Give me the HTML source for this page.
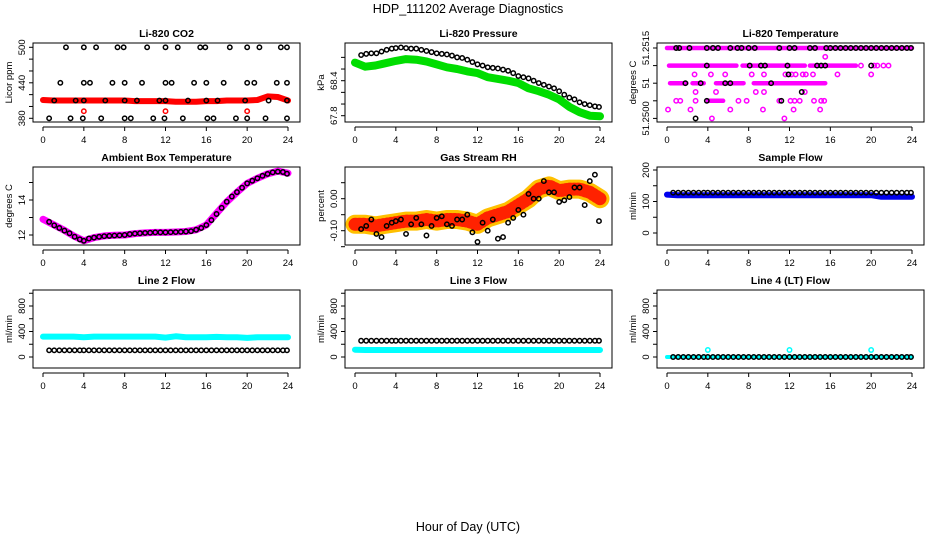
<!DOCTYPE html>
<html><head><meta charset="utf-8">
<style>
html,body{margin:0;padding:0;background:#fff;}
svg{display:block;font-family:"Liberation Sans",sans-serif;}
</style></head>
<body>
<svg id="chart" width="936" height="540" viewBox="0 0 936 540">
<text x="468" y="13" font-size="12.5" text-anchor="middle">HDP_111202  Average Diagnostics</text>
<text x="468" y="531" font-size="12.5" text-anchor="middle">Hour of Day (UTC)</text>
</svg>
<script>
// ---- data ----
const blackHours = [0.6,1.1,1.6,2.1,2.6,3.1,3.6,4.0,4.5,5.0,5.5,6.0,6.5,7.0,7.5,8.0,8.5,9.0,9.5,10.0,10.5,11.0,11.5,12.0,12.5,13.0,13.5,14.0,14.5,15.0,15.5,16.0,16.5,17.0,17.5,18.0,18.5,19.0,19.5,20.0,20.5,21.0,21.5,22.0,22.5,23.0,23.5,23.9];
const bandHours = [0,1,2,3,4,5,6,7,8,9,10,11,12,13,14,15,16,17,18,19,20,21,22,23,24];
const xTicks = [0,4,8,12,16,20,24];

const co2BlackHours = [2.25,4.0,5.2,7.3,7.9,10.2,12.0,13.2,15.4,15.9,18.3,20.0,21.2,23.3,23.9,1.7,4.0,4.6,6.8,8.0,9.7,12.0,12.6,14.8,16.0,17.7,20.0,20.7,22.9,23.9,0.6,2.7,3.9,5.7,8.0,8.6,10.8,11.9,13.7,16.1,16.7,18.9,20.0,21.8,23.9,1.1,3.2,4.0,6.1,8.0,9.2,11.4,12.0,14.2,16.0,17.1,19.8,22.1,23.9];
const co2BlackVals = [500,500,500,500,500,500,500,500,500,500,500,500,500,500,500,440,440,440,440,440,440,440,440,440,440,440,440,440,440,440,380,380,380,380,380,380,380,380,380,380,380,380,380,380,380,410,410,410,410,410,410,410,410,410,410,410,410,410,410];
const co2Red = [411,410,410,410,410,410,410,410,410,409,409,409,409,408,408,408,409,409,410,410,410,411,417,416,410];
const co2RedExtraHours = [4,12,20];
const co2RedExtraVals = [392,392,392];

const presGreen = [68.71,68.64,68.66,68.70,68.74,68.77,68.76,68.73,68.68,68.63,68.60,68.56,68.53,68.46,68.43,68.40,68.36,68.27,68.22,68.16,68.08,67.95,67.86,67.80,67.79];
const presBlack = [68.84,68.86,68.87,68.87,68.90,68.93,68.95,68.96,68.97,68.96,68.95,68.95,68.93,68.91,68.89,68.87,68.86,68.85,68.83,68.80,68.79,68.76,68.72,68.68,68.66,68.63,68.62,68.61,68.59,68.57,68.53,68.48,68.46,68.44,68.40,68.36,68.33,68.30,68.27,68.22,68.16,68.11,68.08,68.03,68.00,67.98,67.96,67.95];

const tempBandVals = [51.2515,51.2511,51.2511,51.2511,51.2507,51.2507,51.2507,51.2507,51.2503];
const tempBandStart = [0.0,0.2,7.4,14.0,0.3,2.5,4.8,8.5,4.0];
const tempBandEnd = [24.0,6.8,13.5,18.5,1.9,3.6,7.5,15.5,5.5];
const tempMagHours = [19.0,20.3,20.6,21.2,21.7,2.7,4.3,5.7,8.3,9.5,11.6,12.2,12.6,13.3,13.6,14.3,16.7,20.0,2.8,4.8,8.7,9.5,13.5,0.9,1.3,2.8,7.0,7.8,11.0,12.1,12.5,13.0,14.4,15.1,15.4,0.1,2.3,6.2,9.4,12.4,15.0,4.4,11.5,15.5];
const tempMagVals = [51.2511,51.2511,51.2511,51.2511,51.2511,51.2509,51.2509,51.2509,51.2509,51.2509,51.2509,51.2509,51.2509,51.2509,51.2509,51.2509,51.2509,51.2509,51.2505,51.2505,51.2505,51.2505,51.2505,51.2503,51.2503,51.2503,51.2503,51.2503,51.2503,51.2503,51.2503,51.2503,51.2503,51.2503,51.2503,51.2501,51.2501,51.2501,51.2501,51.2501,51.2501,51.2499,51.2499,51.2513];
const tempBlackHours = [0.9,1.2,2.2,3.9,4.5,5.0,6.2,6.9,7.3,8.0,8.6,11.0,12.0,12.5,14.0,14.5,15.6,16.0,16.5,17.0,17.5,18.0,18.5,19.0,19.5,20.0,20.5,21.0,21.5,22.0,22.5,23.0,23.5,23.9,3.9,8.1,9.2,9.6,11.8,14.7,15.1,15.5,20.0,11.9,1.8,3.3,5.7,6.2,10.2,13.2,3.9,11.2,2.8];
const tempBlackVals = [51.2515,51.2515,51.2515,51.2515,51.2515,51.2515,51.2515,51.2515,51.2515,51.2515,51.2515,51.2515,51.2515,51.2515,51.2515,51.2515,51.2515,51.2515,51.2515,51.2515,51.2515,51.2515,51.2515,51.2515,51.2515,51.2515,51.2515,51.2515,51.2515,51.2515,51.2515,51.2515,51.2515,51.2515,51.2511,51.2511,51.2511,51.2511,51.2511,51.2511,51.2511,51.2511,51.2511,51.2509,51.2507,51.2507,51.2507,51.2507,51.2507,51.2505,51.2503,51.2503,51.2499];

const ambMagenta = [12.9,12.6,12.3,11.95,11.67,11.85,11.95,11.98,12.0,12.08,12.12,12.15,12.15,12.17,12.2,12.3,12.57,13.24,13.9,14.44,14.95,15.24,15.49,15.65,15.53];
const ambBlack = [12.75,12.55,12.4,12.25,12.1,11.9,11.75,11.67,11.8,11.85,11.9,11.93,11.95,11.97,11.98,12.0,12.05,12.08,12.1,12.12,12.13,12.15,12.15,12.15,12.16,12.17,12.18,12.2,12.22,12.3,12.4,12.57,12.85,13.2,13.55,13.9,14.2,14.45,14.7,14.95,15.1,15.24,15.38,15.49,15.58,15.62,15.6,15.5];

const rhOrange = [-0.08,-0.08,-0.085,-0.08,-0.075,-0.07,-0.07,-0.065,-0.07,-0.065,-0.065,-0.07,-0.08,-0.06,-0.05,-0.04,-0.02,0.0,0.03,0.04,0.025,0.03,0.03,0.02,0.0];
const rhBlack = [-0.095,-0.085,-0.065,-0.11,-0.12,-0.085,-0.075,-0.07,-0.065,-0.11,-0.08,-0.06,-0.08,-0.115,-0.085,-0.06,-0.055,-0.08,-0.085,-0.065,-0.065,-0.05,-0.105,-0.135,-0.075,-0.1,-0.065,-0.125,-0.12,-0.075,-0.06,-0.035,-0.05,0.015,0.0,0.0,0.055,0.02,0.02,-0.01,-0.005,0.005,0.035,0.035,-0.02,0.055,0.075,-0.07];

const sampleBlue = [122,120,120,120,120,120,120,120,120,120,120,120,120,120,120,120,120,120,120,120,120,115,115,115,115];
const sampleBlack = [128,128,128,128,128,128,128,128,128,128,128,128,128,128,128,128,128,128,128,128,128,128,128,128,128,128,128,128,128,128,128,128,128,128,128,128,128,128,128,128,128,128,128,128,128,128,128,128];

const line2Cyan = [320,320,320,320,310,320,320,320,320,320,320,320,305,325,310,310,310,315,310,310,300,310,310,310,310];
const line2Black = [105,105,105,105,105,105,105,105,105,105,105,105,105,105,105,105,105,105,105,105,105,105,105,105,105,105,105,105,105,105,105,105,105,105,105,105,105,105,105,105,105,105,105,105,105,105,105,105];
const line3Cyan = [115,110,110,110,110,110,110,110,110,110,110,110,110,110,110,110,110,110,110,110,110,110,110,110,110];
const line3Black = [255,255,255,255,255,255,255,255,255,255,255,255,255,255,255,255,255,255,255,255,255,255,255,255,255,255,255,255,255,255,255,255,255,255,255,255,255,255,255,255,255,255,255,255,255,255,255,255];
const line4Cyan = [0,0,0,0,0,0,0,0,0,0,0,0,0,0,0,0,0,0,0,0,0,0,0,0,0];
const line4Black = [0,0,0,0,0,0,0,0,0,0,0,0,0,0,0,0,0,0,0,0,0,0,0,0,0,0,0,0,0,0,0,0,0,0,0,0,0,0,0,0,0,0,0,0,0,0,0,0];
const line4ExtraHours = [4,12,20];
const line4ExtraVals = [110,110,110];

// ---- drawing ----
const NS = "http://www.w3.org/2000/svg";
const svg = document.getElementById("chart");
const rowBox = [[43,122],[167,245],[290,368]];
function mk(tag, attrs, parent){
  const e = document.createElementNS(NS, tag);
  for (const k in attrs) e.setAttribute(k, attrs[k]);
  (parent||svg).appendChild(e);
  return e;
}
function lin(v0,p0,v1,p1){ return v => p0 + (v - v0) * (p1 - p0) / (v1 - v0); }

function makePanel(c, r, name, title, ylab, ys, yTicks, yLabels){
  const g = mk("g", {});
  
  
  const L = 33 + 312*c, R = 300 + 312*c, T = rowBox[r][0], B = rowBox[r][1];
  const xs = h => 43 + 312*c + h*245/24;
  const box = mk("rect", {x:L, y:T, width:R-L, height:B-T, fill:"none", stroke:"#000", "stroke-width":1}, g);
  
  
  const t = mk("text", {x:(L+R)/2, y:T-6, "font-size":10.5, "font-weight":"bold", "text-anchor":"middle"}, g);
  t.textContent = title;
  
  
  const xa = mk("g", {}, g);
  
  
  const ay = B + 5;
  mk("line", {x1:xs(xTicks[0]), x2:xs(xTicks[xTicks.length-1]), y1:ay, y2:ay, stroke:"#000"}, xa);
  xTicks.forEach(v => {
    mk("line", {x1:xs(v), x2:xs(v), y1:ay, y2:ay+4, stroke:"#000"}, xa);
    const tl = mk("text", {x:xs(v), y:ay+16, "font-size":9.5, "text-anchor":"middle"}, xa);
    tl.textContent = v;
    
    
  });
  const ya = mk("g", {}, g);
  
  
  yTicks.forEach(v => {
    mk("line", {x1:L-4, x2:L, y1:ys(v), y2:ys(v), stroke:"#000"}, ya);
  });
  yLabels.forEach(([v, s]) => {
    const tl = mk("text", {x:0, y:0, "font-size":9.5, "text-anchor":"middle", transform:`translate(${L-8},${ys(v)}) rotate(-90)`}, ya);
    tl.textContent = s;
    
    
  });
  const yl = mk("text", {x:0, y:0, "font-size":9.5, "text-anchor":"middle", transform:`translate(${12+312*c},${(T+B)/2}) rotate(-90)`}, g);
  yl.textContent = ylab;
  
  
  const clip = mk("clipPath", {id:"clip-"+name}, g);
  mk("rect", {x:L, y:T, width:R-L, height:B-T}, clip);
  const plot = mk("g", {"clip-path":"url(#clip-"+name+")"}, g);
  return {g:plot, xs, ys};
}
function band(p, name, hours, vals, color, w){
  const pts = hours.map((h,i) => p.xs(h).toFixed(1) + "," + p.ys(vals[i]).toFixed(1)).join(" ");
  const e = mk("polyline", {points:pts, fill:"none", stroke:color, "stroke-width":w, "stroke-linejoin":"round", "stroke-linecap":"round"}, p.g);
  
  
  return e;
}
function points(p, name, hours, vals, color, rad, sw){
  hours.forEach((h,i) => {
    const e = mk("circle", {cx:p.xs(h), cy:p.ys(vals[i]), r:rad||2.2, fill:"none", stroke:color, "stroke-width":sw||1.5}, p.g);
    
    
  });
}

const p1 = makePanel(0,0,"co2","Li-820 CO2","Licor ppm", lin(500,47.3,380,118.3),
  [380,400,420,440,460,480,500], [[380,"380"],[440,"440"],[500,"500"]]);
band(p1,"co2-red-series",bandHours,co2Red,"#ff0000",6);
points(p1,"co2-red-point",co2RedExtraHours,co2RedExtraVals,"#ff0000");
points(p1,"co2-black-point",co2BlackHours,co2BlackVals,"#000");

const p2 = makePanel(1,0,"pressure","Li-820 Pressure","kPa", lin(68.4,80.7,67.8,115.7),
  [67.8,68.0,68.2,68.4,68.6,68.8], [[67.8,"67.8"],[68.4,"68.4"]]);
band(p2,"pressure-green-series",bandHours,presGreen,"#00dd00",8);
points(p2,"pressure-black-point",blackHours,presBlack,"#000");

const p3 = makePanel(2,0,"li820-temp","Li-820 Temperature","degrees C", v => 48 + (51.2515 - v)/0.0002*8.8,
  [51.2515,51.2511,51.2507,51.2503,51.2499], [[51.2515,"51.2515"],[51.2507,"51"],[51.2499,"51.2500"]]);
tempBandVals.forEach((v,i) => {
  const e = mk("line", {x1:p3.xs(tempBandStart[i]), x2:p3.xs(tempBandEnd[i]), y1:p3.ys(v), y2:p3.ys(v), stroke:"#ff00ff", "stroke-width":4.5, "stroke-linecap":"round"}, p3.g);
  
  
});
points(p3,"temp-magenta-point",tempMagHours,tempMagVals,"#ff00ff");
points(p3,"temp-black-point",tempBlackHours,tempBlackVals,"#000");

const p4 = makePanel(0,1,"ambient","Ambient Box Temperature","degrees C", lin(12,235,14,200),
  [12,13,14,15], [[12,"12"],[14,"14"]]);
band(p4,"ambient-magenta-series",bandHours,ambMagenta,"#ff00ff",7);
points(p4,"ambient-black-point",blackHours,ambBlack,"#000");

const p5 = makePanel(1,1,"rh","Gas Stream RH","percent", lin(0,198.7,-0.1,230.7),
  [-0.15,-0.10,-0.05,0,0.05], [[-0.10,"-0.10"],[0,"0.00"]]);
band(p5,"rh-orange-series",bandHours,rhOrange,"#ffc000",19);
band(p5,"rh-red-texture",bandHours,rhOrange,"#ff2200",13).setAttribute("stroke-dasharray","1 3");
points(p5,"rh-black-point",blackHours,rhBlack,"#000");

const p6 = makePanel(2,1,"sample-flow","Sample Flow","ml/min", lin(0,233,200,170),
  [0,50,100,150,200], [[0,"0"],[100,"100"],[200,"200"]]);
band(p6,"sample-blue-series",bandHours,sampleBlue,"#0000ee",6);
points(p6,"sample-black-point",blackHours,sampleBlack,"#000");

const flowYs = lin(0,357,800,306);
const flowTicks = [0,200,400,600,800,1000];
const flowLabels = [[0,"0"],[400,"400"],[800,"800"]];
const p7 = makePanel(0,2,"line2-flow","Line 2 Flow","ml/min", flowYs, flowTicks, flowLabels);
band(p7,"line2-cyan-series",bandHours,line2Cyan,"#00ffff",6);
points(p7,"line2-black-point",blackHours,line2Black,"#000");
const p8 = makePanel(1,2,"line3-flow","Line 3 Flow","ml/min", flowYs, flowTicks, flowLabels);
band(p8,"line3-cyan-series",bandHours,line3Cyan,"#00ffff",6);
points(p8,"line3-black-point",blackHours,line3Black,"#000");
const p9 = makePanel(2,2,"line4-flow","Line 4 (LT) Flow","ml/min", flowYs, flowTicks, flowLabels);
band(p9,"line4-cyan-series",bandHours,line4Cyan,"#00ffff",4);
points(p9,"line4-black-point",blackHours,line4Black,"#000");
points(p9,"line4-cyan-point",line4ExtraHours,line4ExtraVals,"#00ffff");
</script>
</body></html>
